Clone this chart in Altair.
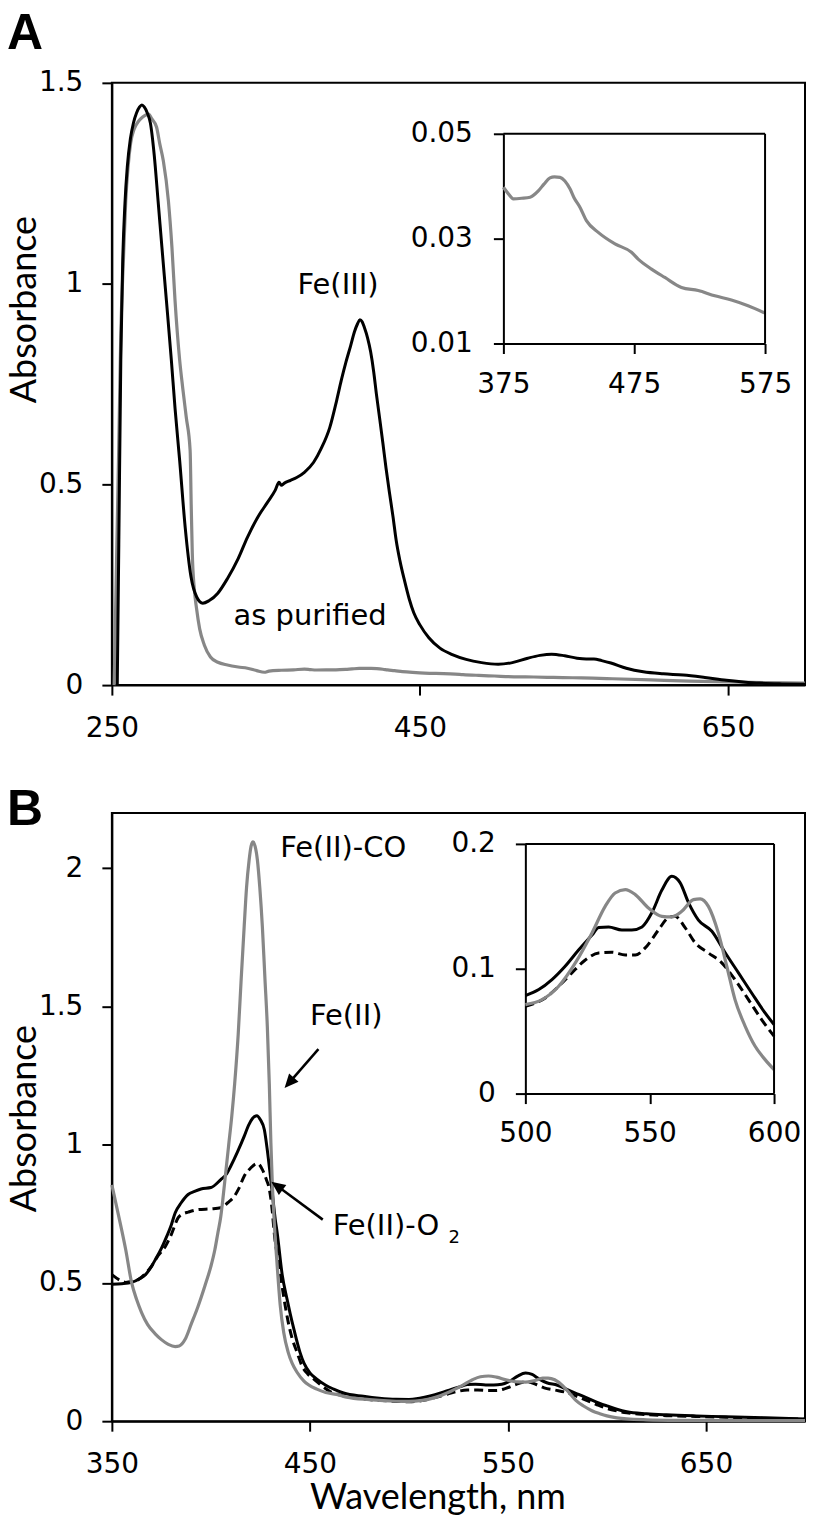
import altair as alt
import pandas as pd

# ---------------- values ----------------
# Panel A, Fe(III) (black)
A_FE3_WL = [253.5, 254.5, 255.8, 257, 258.5, 260, 262, 264, 266, 268, 269.5, 271, 273, 275, 277.5, 280,
            282.5, 285.4, 288.6, 291, 294, 297.6, 301.4, 305, 309, 313, 318.8, 325, 332, 338, 345, 351,
            356, 358.5, 360, 362, 366, 370, 375, 381, 386, 391.5, 396, 399, 402, 405, 407.5, 409.5, 411,
            412.5, 414, 416, 418, 420, 421.7, 424, 426, 428, 430.3, 432.5, 434.6, 437, 440, 443, 446, 450,
            455.8, 463, 471, 480, 490, 500.8, 510, 520, 528, 535.5, 544, 552, 558, 563, 568, 574, 584,
            595, 608, 621, 635, 649, 660, 670.5, 685, 700]
A_FE3_ABS = [0.0, 0.35, 0.81, 1.05, 1.2, 1.29, 1.36, 1.40, 1.425, 1.44, 1.445, 1.44, 1.425, 1.40, 1.32, 1.206,
             1.09, 0.958, 0.81, 0.69, 0.56, 0.393, 0.269, 0.22, 0.204, 0.21, 0.229, 0.265, 0.315, 0.368, 0.42, 0.455,
             0.485, 0.505, 0.498, 0.503, 0.51, 0.517, 0.53, 0.555, 0.59, 0.642, 0.71, 0.76, 0.805, 0.845, 0.88, 0.90, 0.91,
             0.905, 0.89, 0.865, 0.83, 0.78, 0.726, 0.66, 0.601, 0.54, 0.477, 0.42, 0.36, 0.31, 0.26, 0.215, 0.18, 0.15,
             0.118, 0.092, 0.076, 0.064, 0.056, 0.052, 0.056, 0.067, 0.074, 0.077, 0.073, 0.067, 0.065, 0.065, 0.061, 0.055, 0.042,
             0.033, 0.028, 0.025, 0.019, 0.012, 0.008, 0.005, 0.003, 0.002]

# Panel A, as purified (grey)
A_PUR_WL = [251.5, 253, 254.5, 255.8, 257.5, 259, 260.5, 262.2, 264.5, 267.4, 270, 272, 273.8, 276, 279, 281,
            283.4, 286.7, 289, 291, 294, 296, 298.3, 300.8, 301.5, 302.2, 303.5, 305, 307, 310, 314, 318.8,
            325, 332, 338, 344, 349, 352, 360, 368, 375, 379, 382.6, 389, 395.4, 401.7, 406, 410.6, 414,
            418.3, 422, 425.9, 429, 433.5, 438.6, 447.5, 460.3, 472.9, 478, 488.2, 498.4, 511.1, 523.9,
            536.6, 549.3, 562, 575, 600, 625, 650, 675, 700]
A_PUR_ABS = [0.0, 0.3, 0.6, 0.875, 1.06, 1.206, 1.29, 1.35, 1.385, 1.405, 1.415, 1.42, 1.422, 1.41, 1.39, 1.35,
             1.306, 1.206, 1.09, 0.958, 0.81, 0.74, 0.667, 0.585, 0.45, 0.33, 0.24, 0.19, 0.14, 0.10, 0.07, 0.057,
             0.05, 0.045, 0.042, 0.036, 0.032, 0.035, 0.037, 0.038, 0.0398, 0.0385, 0.0376, 0.0377, 0.0379, 0.0391, 0.0404, 0.0416, 0.0418,
             0.0417, 0.041, 0.0395, 0.0378, 0.036, 0.0334, 0.0312, 0.029, 0.0274, 0.0261, 0.0242, 0.0226, 0.0207, 0.0201,
             0.0191, 0.0183, 0.0172, 0.0158, 0.013, 0.01, 0.008, 0.006, 0.005]

# Panel B, Fe(II) (black solid)
B_FE2_WL = [350, 355, 360, 364, 367, 370, 372, 375, 377, 380, 382, 385, 388.5, 391.8, 395, 400, 405, 408, 410,
            413.5, 416.8, 419, 421, 423.2, 425, 427, 428.5, 430, 431, 432.5, 433.5, 436, 438.5, 440, 442, 445,
            447, 450, 453.5, 458, 462, 467, 477, 485, 493.5, 500, 505.4, 510.7, 516, 521.4, 526.8, 529.5, 533.5,
            538.8, 542.8, 546.9, 550.9, 554.9, 558.9, 562.2, 565.6, 569.6, 575, 580.3, 585.7, 591, 596.4, 600,
            605, 610, 620, 630, 645, 660, 680, 700]
B_FE2_ABS = [0.495, 0.497, 0.502, 0.515, 0.53, 0.56, 0.585, 0.625, 0.657, 0.71, 0.754, 0.79, 0.82, 0.831, 0.84, 0.845, 0.874, 0.895, 0.922,
             0.975, 1.03, 1.07, 1.095, 1.105, 1.09, 1.054, 0.98, 0.89, 0.826, 0.73, 0.68, 0.53, 0.44, 0.39, 0.33, 0.249,
             0.21, 0.175, 0.152, 0.13, 0.116, 0.102, 0.09, 0.083, 0.079, 0.0785, 0.0833, 0.0913, 0.102, 0.115, 0.127, 0.133, 0.1335,
             0.131, 0.131, 0.1335, 0.145, 0.163, 0.174, 0.169, 0.153, 0.139, 0.13, 0.113, 0.0967, 0.0806, 0.0646, 0.0553,
             0.043, 0.034, 0.027, 0.023, 0.019, 0.016, 0.012, 0.008]

# Panel B, Fe(II)-O2 (black dashed)
B_O2_WL = [350, 354, 357, 360, 363.5, 367, 370, 373, 377, 380, 383.5, 386, 388.5, 393.5, 400, 405, 408.5, 411.8,
           414, 416.8, 420, 423.5, 426, 428, 429.5, 431, 432, 434.5, 437, 439, 441, 443.5, 446, 449, 452, 456,
           460, 465, 472, 480, 490, 500, 508, 513.4, 518.7, 524.1, 529.5, 534.8, 540.2, 544.2, 548.2, 553.5,
           557.6, 560.2, 564.3, 568.3, 573.6, 579, 584.3, 589.7, 595, 600, 605, 610, 620, 630, 645, 660, 680, 700]
B_O2_ABS = [0.53, 0.51, 0.502, 0.505, 0.513, 0.535, 0.56, 0.595, 0.632, 0.675, 0.736, 0.75, 0.756, 0.765, 0.768, 0.772, 0.79, 0.813,
            0.84, 0.886, 0.915, 0.932, 0.91, 0.874, 0.84, 0.76, 0.68, 0.56, 0.44, 0.36, 0.30, 0.249, 0.20, 0.17, 0.152, 0.128,
            0.108, 0.095, 0.085, 0.078, 0.073, 0.07, 0.0766, 0.086, 0.0967, 0.107, 0.1127, 0.1132, 0.111, 0.111, 0.1167, 0.131,
            0.141, 0.142, 0.1327, 0.1207, 0.1127, 0.1047, 0.0913, 0.0753, 0.0593, 0.046, 0.037, 0.030, 0.024, 0.020, 0.017, 0.014, 0.010, 0.007]

# Panel B, Fe(II)-CO (grey)
B_CO_WL = [350, 353.5, 357, 360, 362.5, 365, 368, 372, 375, 378.5, 382, 384, 387, 390, 393.5, 397, 400, 402,
           403.5, 405, 406, 407.5, 409, 410.5, 412, 413.8, 415.3, 416.8, 418, 419.3, 420.3, 421.3, 422.3, 423.5,
           424.7, 426, 427.3, 428.5, 429.5, 430.3, 431, 432, 433.5, 435, 436.8, 439, 441, 443.5, 447, 453.5, 458,
           463.5, 468.5, 480, 493.5, 500, 506.7, 513.4, 520.1, 526.8, 532.1, 536.1, 540.2, 544.2, 549.5, 554.9,
           558.9, 562.9, 567.6, 570.3, 573.6, 577.6, 581, 584.3, 588.4, 592.4, 596.4, 600, 605, 610, 620, 640, 670, 700]
B_CO_ABS = [0.855, 0.74, 0.62, 0.50, 0.44, 0.393, 0.35, 0.315, 0.295, 0.278, 0.27, 0.272, 0.296, 0.35, 0.415, 0.49, 0.56, 0.62,
            0.68, 0.74, 0.80, 0.90, 1.0, 1.1, 1.22, 1.40, 1.6, 1.788, 1.93, 2.029, 2.08, 2.095, 2.08, 2.029,
            1.93, 1.788, 1.6, 1.427, 1.22, 1.006, 0.863, 0.72, 0.56, 0.42, 0.32, 0.25, 0.21, 0.177, 0.145, 0.116, 0.104,
            0.097, 0.087, 0.078, 0.072, 0.0713, 0.0753, 0.086, 0.1047, 0.1287, 0.15, 0.1607, 0.1634, 0.1594, 0.1487, 0.142,
            0.1415, 0.146, 0.1554, 0.156, 0.15, 0.1287, 0.102, 0.0753, 0.0539, 0.0379, 0.0272, 0.0192, 0.012, 0.008, 0.005, 0.003, 0.002, 0.002]

# axes: domains and tick values
A_X_DOMAIN = [250, 700]
A_Y_DOMAIN = [0, 1.5]
A_X_TICKS = [250, 450, 650]
A_Y_TICKS = [0, 0.5, 1, 1.5]
A_INSET_X_DOMAIN = [375, 575]
A_INSET_Y_DOMAIN = [0.01, 0.05]
A_INSET_X_TICKS = [375, 475, 575]
A_INSET_Y_TICKS = [0.01, 0.03, 0.05]

B_X_DOMAIN = [350, 700]
B_Y_DOMAIN = [0, 2.2]
B_X_TICKS = [350, 450, 550, 650]
B_Y_TICKS = [0, 0.5, 1, 1.5, 2]
B_INSET_X_DOMAIN = [500, 600]
B_INSET_Y_DOMAIN = [0, 0.2]
B_INSET_X_TICKS = [500, 550, 600]
B_INSET_Y_TICKS = [0, 0.1, 0.2]

# annotations
A_LABELS = ["Fe(III)", "as purified"]
A_LABEL_WL = [370.5, 329]
A_LABEL_ABS = [0.975, 0.149]

B_LABELS = ["Fe(II)-CO", "Fe(II)", "Fe(II)-O"]
B_LABEL_WL = [435, 450, 461.5]
B_LABEL_ABS = [2.04, 1.433, 0.675]
B_SUB_LABEL = ["2"]
B_SUB_WL = [520]
B_SUB_ABS = [0.645]

# arrows: tail -> tip (data coords)
ARROW_TAIL_WL = [454.3, 456.5]
ARROW_TAIL_ABS = [1.3455, 0.729]
ARROW_END_WL = [439.8, 433.7]
ARROW_END_ABS = [1.2264, 0.8495]
ARROW_TIP_WL = [437.2, 430.5]
ARROW_TIP_ABS = [1.2047, 0.866]
ARROW_ANGLE = [221.4, 306.2]

# ---------------- layout & style ----------------
W = 694
HA = 603
HB = 609
SPACING = 128
A_INSET_X_RANGE = [392, 654]
A_INSET_Y_RANGE = [261, 51]
B_INSET_X_RANGE = [414, 663]
B_INSET_Y_RANGE = [281, 31]
GRAY = "#878787"
TICK_FONT = "DejaVu Sans"
TEXT_FONT = "DejaVu Sans"
TITLE_FONT = "Lato"
ARROW_PATH = "M0,0 L0.45,1 L-0.45,1 Z"

AX = dict(labelFlush=False, labelOverlap=False, grid=False, tickSize=10, tickWidth=2, domainWidth=2,
          domainColor="black", tickColor="black", labelColor="black", labelFont=TICK_FONT, labelFontSize=28)


def df_line(wl, ab):
    return pd.DataFrame({"wl": wl, "abs": ab})


def xenc(domain, ticks, rng=None, **axkw):
    sc = dict(domain=domain, nice=False, zero=False)
    if rng is not None:
        sc["range"] = rng
    return alt.X("wl:Q", scale=alt.Scale(**sc), axis=alt.Axis(values=ticks, **AX, **axkw))


def yenc(domain, ticks, rng=None, **axkw):
    sc = dict(domain=domain, nice=False, zero=False)
    if rng is not None:
        sc["range"] = rng
    return alt.Y("abs:Q", scale=alt.Scale(**sc), axis=alt.Axis(values=ticks, **AX, **axkw))


def line(df, x, y, color, dash=None, width=3, filt=None):
    c = alt.Chart(df)
    if filt is not None:
        c = c.transform_filter(f"datum.wl >= {filt[0]} && datum.wl <= {filt[1]}")
    kw = dict(color=color, strokeWidth=width, interpolate="monotone")
    if dash is not None:
        kw["strokeDash"] = dash
    return c.mark_line(**kw).encode(x=x, y=y)


def texts(labels, wl, ab, x, y, size):
    df = pd.DataFrame({"t": labels, "wl": wl, "abs": ab})
    return alt.Chart(df).mark_text(align="left", baseline="alphabetic", font=TEXT_FONT,
                                   fontSize=size, color="black").encode(x=x, y=y, text="t:N")


def inset_box(xdom, ydom, x, y):
    top = alt.Chart(pd.DataFrame({"wl": [xdom[0]], "wl2": [xdom[1]], "abs": [ydom[1]]})).mark_rule(
        color="black", strokeWidth=2).encode(x=x, x2="wl2:Q", y=y)
    right = alt.Chart(pd.DataFrame({"wl": [xdom[1]], "abs": [ydom[0]], "abs2": [ydom[1]]})).mark_rule(
        color="black", strokeWidth=2).encode(x=x, y=y, y2="abs2:Q")
    return top, right


def letter(t, yv):
    return alt.Chart(pd.DataFrame({"t": [t]})).mark_text(
        align="left", baseline="alphabetic", font="Liberation Sans", fontWeight="bold", fontSize=50,
        color="black").encode(x=alt.value(-105), y=alt.value(yv), text="t:N")


TITLE_KW = dict(titleFont=TITLE_FONT, titleFontSize=36, titleFontWeight="normal", titleColor="black",
                titleAlign="center", titleBaseline="alphabetic")

# ---------------- panel A ----------------
dA_fe3 = df_line(A_FE3_WL, A_FE3_ABS)
dA_pur = df_line(A_PUR_WL, A_PUR_ABS)

xA = xenc(A_X_DOMAIN, A_X_TICKS, labelPadding=19, title=None)
yA = yenc(A_Y_DOMAIN, A_Y_TICKS, labelPadding=19, format=".1~f", title="Absorbance",
          titleAngle=270, titleX=-76, titleY=226.5, **TITLE_KW)

mainA = alt.layer(
    line(dA_pur, xA, yA, GRAY, width=3.2),
    line(dA_fe3, xA, yA, "black"),
    texts(A_LABELS, A_LABEL_WL, A_LABEL_ABS, xA, yA, 29),
    letter("A", -34),
)

xAi = xenc(A_INSET_X_DOMAIN, A_INSET_X_TICKS, rng=A_INSET_X_RANGE, orient="bottom",
           offset=-(HA - A_INSET_Y_RANGE[0]), labelPadding=17, title=None)
yAi = yenc(A_INSET_Y_DOMAIN, A_INSET_Y_TICKS, rng=A_INSET_Y_RANGE, orient="left",
           offset=-A_INSET_X_RANGE[0], labelPadding=21, format=".2f", title=None)
boxA = inset_box(A_INSET_X_DOMAIN, A_INSET_Y_DOMAIN, xAi, yAi)
insetA = alt.layer(
    line(dA_pur, xAi, yAi, GRAY, width=3.2, filt=A_INSET_X_DOMAIN),
    *boxA,
)

panelA = alt.layer(mainA, insetA).resolve_scale(x="independent", y="independent").properties(
    width=W, height=HA)

# ---------------- panel B ----------------
dB_fe2 = df_line(B_FE2_WL, B_FE2_ABS)
dB_o2 = df_line(B_O2_WL, B_O2_ABS)
dB_co = df_line(B_CO_WL, B_CO_ABS)

xB = xenc(B_X_DOMAIN, B_X_TICKS, labelPadding=19, title="Wavelength, nm",
          titleAngle=0, titleX=326, titleY=87, **TITLE_KW)
yB = yenc(B_Y_DOMAIN, B_Y_TICKS, labelPadding=19, format=".1~f", title="Absorbance",
          titleAngle=270, titleX=-76, titleY=305.5, **TITLE_KW)

arrows = pd.DataFrame({"wl": ARROW_TAIL_WL, "abs": ARROW_TAIL_ABS, "wl2": ARROW_END_WL, "abs2": ARROW_END_ABS})
heads = pd.DataFrame({"wl": ARROW_TIP_WL, "abs": ARROW_TIP_ABS, "ang": ARROW_ANGLE})

mainB = alt.layer(
    line(dB_fe2, xB, yB, "black"),
    line(dB_o2, xB, yB, "black", dash=[9, 5]),
    line(dB_co, xB, yB, GRAY, width=3.2),
    texts(B_LABELS, B_LABEL_WL, B_LABEL_ABS, xB, yB, 29),
    texts(B_SUB_LABEL, B_SUB_WL, B_SUB_ABS, xB, yB, 18),
    alt.Chart(arrows).mark_rule(color="black", strokeWidth=2.5).encode(x=xB, y=yB, x2="wl2:Q", y2="abs2:Q"),
    alt.Chart(heads).mark_point(shape=ARROW_PATH, filled=True, size=784, color="black", opacity=1,
                                strokeWidth=0).encode(x=xB, y=yB, angle=alt.Angle("ang:Q", scale=None)),
    letter("B", 12),
)

xBi = xenc(B_INSET_X_DOMAIN, B_INSET_X_TICKS, rng=B_INSET_X_RANGE, orient="bottom",
           offset=-(HB - B_INSET_Y_RANGE[0]), labelPadding=16, title=None)
yBi = yenc(B_INSET_Y_DOMAIN, B_INSET_Y_TICKS, rng=B_INSET_Y_RANGE, orient="left",
           offset=-B_INSET_X_RANGE[0], labelPadding=20, format=".1~f", title=None)
boxB = inset_box(B_INSET_X_DOMAIN, B_INSET_Y_DOMAIN, xBi, yBi)
insetB = alt.layer(
    line(dB_fe2, xBi, yBi, "black", filt=B_INSET_X_DOMAIN),
    line(dB_o2, xBi, yBi, "black", dash=[9, 5], filt=B_INSET_X_DOMAIN),
    line(dB_co, xBi, yBi, GRAY, width=3.2, filt=B_INSET_X_DOMAIN),
    *boxB,
)

panelB = alt.layer(mainB, insetB).resolve_scale(x="independent", y="independent").properties(
    width=W, height=HB)

chart = alt.vconcat(panelA, panelB, spacing=SPACING, bounds="flush").properties(
    padding={"left": -2, "top": -1, "right": -5, "bottom": 0}
).configure_view(stroke="black", strokeWidth=2)

chart.save("out.html", embed_options={"renderer": "svg", "actions": False})
